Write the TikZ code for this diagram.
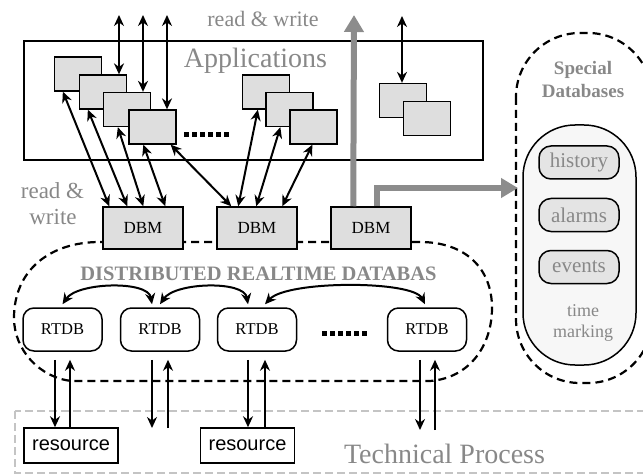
\documentclass[tikz,border=0pt]{standalone}
\usepackage{fontspec}
\setmainfont{Liberation Serif}
\newfontfamily\sansf{Liberation Sans}
\usetikzlibrary{arrows.meta,calc}
\definecolor{boxgray}{HTML}{DEDEDE}
\definecolor{txtgray}{HTML}{888888}
\definecolor{arrgray}{HTML}{8C8C8C}
\definecolor{tpgray}{HTML}{C4C4C4}
\definecolor{innerfill}{HTML}{F7F7F7}
\definecolor{smallfill}{HTML}{E4E4E4}
\newcommand{\myfs}[1]{\fontsize{#1}{#1}\selectfont}
\begin{document}
\begin{tikzpicture}[x=1pt,y=-1pt,
  appbox/.style={draw, fill=boxgray, line width=1.3pt, minimum width=47pt, minimum height=34pt, inner sep=0pt},
  dbmbox/.style={draw, fill=boxgray, line width=1.5pt, minimum width=80pt, minimum height=42pt, inner sep=0pt, font=\myfs{17}},
  rtdbbox/.style={draw, fill=white, rounded corners=11pt, line width=1.5pt, minimum width=79pt, minimum height=43pt, inner sep=0pt, font=\myfs{16.5}},
  resbox/.style={draw, fill=white, line width=1.5pt, minimum width=94pt, minimum height=35pt, inner sep=0pt, font=\sansf\myfs{20}},
  specbox/.style={draw, fill=smallfill, rounded corners=12pt, line width=1.5pt, minimum width=80pt, minimum height=33pt, inner sep=0pt, text=txtgray, font=\myfs{21}},
  gtext/.style={text=txtgray, inner sep=0pt},
  dbl/.style={{Stealth[length=11pt,width=10pt]}-{Stealth[length=11pt,width=10pt]}, line width=2pt},
  sgl/.style={-{Stealth[length=11pt,width=10pt]}, line width=2pt},
  grayarrow/.style={draw=arrgray, line width=6pt, -{Triangle[length=17pt,width=19pt]}},
  dashline/.style={dash pattern=on 8pt off 5pt, line width=2.2pt},
  dotrow/.style={dash pattern=on 5pt off 3pt, line width=5pt}
]
\useasboundingbox (0,0) rectangle (643,476);

% Technical process band
\draw[draw=tpgray, line width=1.5pt, dash pattern=on 8pt off 4pt] (15,411) rectangle (670,473);
\node[gtext, font=\myfs{28}, anchor=base] (tptxt) at (444.5,463) {Technical Process};

% Distributed realtime database region
\draw[dashline] (100,242) -- (420,242)
  .. controls (465,242) and (492,268) .. (492,308)
  .. controls (492,345) and (470,378) .. (430,381)
  -- (72,381)
  .. controls (40,378) and (14,350) .. (14,318)
  .. controls (14,270) and (50,242) .. (100,242);
\node[gtext, font=\bfseries\myfs{20.5}, anchor=base] (drdtxt) at (258.5,280) {DISTRIBUTED REALTIME DATABAS};

% Special databases
\draw[dashline, rounded corners=64pt] (516,33) rectangle (652,383);
\node[gtext, font=\bfseries\myfs{19}, anchor=base] (sp1) at (583,75) {Special};
\node[gtext, font=\bfseries\myfs{19}, anchor=base] (sp2) at (583,98) {Databases};
\draw[line width=1.5pt, fill=innerfill, rounded corners=52pt] (523,125) rectangle (636,365);
\node[specbox] (hist) at (579,162.5) {history};
\node[specbox] (alrm) at (579,215) {alarms};
\node[specbox] (evts) at (579,267) {events};
\node[gtext, font=\myfs{18}, anchor=base] (tm1) at (583,316) {time};
\node[gtext, font=\myfs{18}, anchor=base] (tm2) at (583,337) {marking};

% Applications frame
\draw[line width=1.5pt] (24,41) rectangle (483,160);
\node[gtext, font=\myfs{28}, anchor=base] (apptxt) at (255.5,68) {Applications};
\node[gtext, font=\myfs{22}, anchor=base] (rwtop) at (263,27) {read \& write};
\node[gtext, font=\myfs{23}, anchor=base] (rwl1) at (52.5,198) {read \&};
\node[gtext, font=\myfs{23}, anchor=base] (rwl2) at (53,225) {write};

% application boxes
\node[appbox] (a1) at (78,74) {};
\node[appbox] (a2) at (103,92) {};
\node[appbox] (a3) at (127,109.5) {};
\node[appbox] (a4) at (152.5,127) {};
\node[appbox] (b1) at (266,92) {};
\node[appbox] (b2) at (289.5,109.5) {};
\node[appbox] (b3) at (313.5,127) {};
\node[appbox] (c1) at (403,100.5) {};
\node[appbox] (c2) at (427,118.5) {};
\coordinate (dots1a) at (184,135);
\coordinate (dots1b) at (231,135);
\draw[dotrow] (dots1a) -- (dots1b);

% DBMs
\node[dbmbox] (d1) at (143,228) {DBM};
\node[dbmbox] (d2) at (257,228) {DBM};
\node[dbmbox] (d3) at (371,228) {DBM};

% top arrows
\coordinate (t1) at (119,15);
\coordinate (t2) at (143,15);
\coordinate (t3) at (167,15);
\coordinate (t4) at (402,16);
\draw[dbl] (t1) -- (t1 |- a2.north);
\draw[dbl] (t2) -- (t2 |- a3.north);
\draw[dbl] (t3) -- (t3 |- a4.north);
\draw[dbl] (t4) -- (t4 |- c1.north);

% app <-> DBM arrows
\draw[dbl] ($(a1.south west)+(9,0)$) -- ($(d1.north west)+(7,0)$);
\draw[dbl] ($(a2.south west)+(9,0)$) -- ($(d1.north west)+(25,0)$);
\draw[dbl] ($(a3.south west)+(15,0)$) -- ($(d1.north west)+(41,0)$);
\draw[dbl] ($(a4.south west)+(15,0)$) -- ($(d1.north west)+(63,0)$);
\draw[dbl] ($(a4.south east)+(-6,0)$) -- ($(d2.north west)+(15,0)$);
\draw[dbl] ($(b1.south west)+(16,0)$) -- ($(d2.north west)+(22,0)$);
\draw[dbl] ($(b2.south west)+(15,0)$) -- ($(d2.north west)+(40,0)$);
\draw[dbl] ($(b3.south west)+(23,0)$) -- ($(d2.north west)+(66,0)$);

% gray arrows
\coordinate (gtop) at (354,15);
\coordinate (gtip) at (518,188);
\draw[grayarrow] ($(d3.north west)+(23,0)$) -- (gtop);
\draw[grayarrow] ($(d3.north west)+(47,0)$) |- (gtip);

% RTDBs
\node[rtdbbox] (r1) at (62.5,329.5) {RTDB};
\node[rtdbbox] (r2) at (160,329.5) {RTDB};
\node[rtdbbox] (r3) at (257,329.5) {RTDB};
\node[rtdbbox] (r4) at (427,329.5) {RTDB};
\coordinate (dots2a) at (322,333);
\coordinate (dots2b) at (369,333);
\draw[dotrow] (dots2a) -- (dots2b);

% curved arrows between RTDBs
\draw[dbl] ($(r1.north)+(0,-3)$) .. controls +(15,-22) and +(-4,-24) .. ($(r2.north)+(-8,-3)$);
\draw[dbl] ($(r2.north)+(0,-3)$) .. controls +(15,-22) and +(-4,-24) .. ($(r3.north)+(-9,-3)$);
\draw[dbl] ($(r3.north)+(8,-3)$) .. controls +(22,-24) and +(-12,-24) .. ($(r4.north)+(-2,-3)$);

% resources
\node[resbox] (res1) at (71,445.5) {resource};
\node[resbox] (res2) at (247.5,445.5) {resource};

\coordinate (r1d) at ($(r1.south)+(-7.5,8)$);
\coordinate (r1u) at ($(r1.south)+(7.5,8)$);
\coordinate (r2d) at ($(r2.south)+(-8,8)$);
\coordinate (r2u) at ($(r2.south)+(8,8)$);
\coordinate (r3d) at ($(r3.south)+(-9,8)$);
\coordinate (r3u) at ($(r3.south)+(8,8)$);
\coordinate (r4d) at ($(r4.south)+(-7,8)$);
\coordinate (r4u) at ($(r4.south)+(8,8)$);
\draw[sgl] (r1d) -- (r1d |- res1.north);
\draw[sgl] (r1u |- res1.north) -- (r1u);
\coordinate (e2d) at (152,428);
\coordinate (e2u) at (168,428);
\draw[sgl] (r2d) -- (e2d);
\draw[sgl] (e2u) -- (r2u);
\draw[sgl] (r3d) -- (r3d |- res2.north);
\draw[sgl] (r3u |- res2.north) -- (r3u);
\coordinate (e4d) at (420,430);
\coordinate (e4u) at (435,430);
\draw[sgl] (r4d) -- (e4d);
\draw[sgl] (e4u) -- (r4u);
\end{tikzpicture}
\end{document}
